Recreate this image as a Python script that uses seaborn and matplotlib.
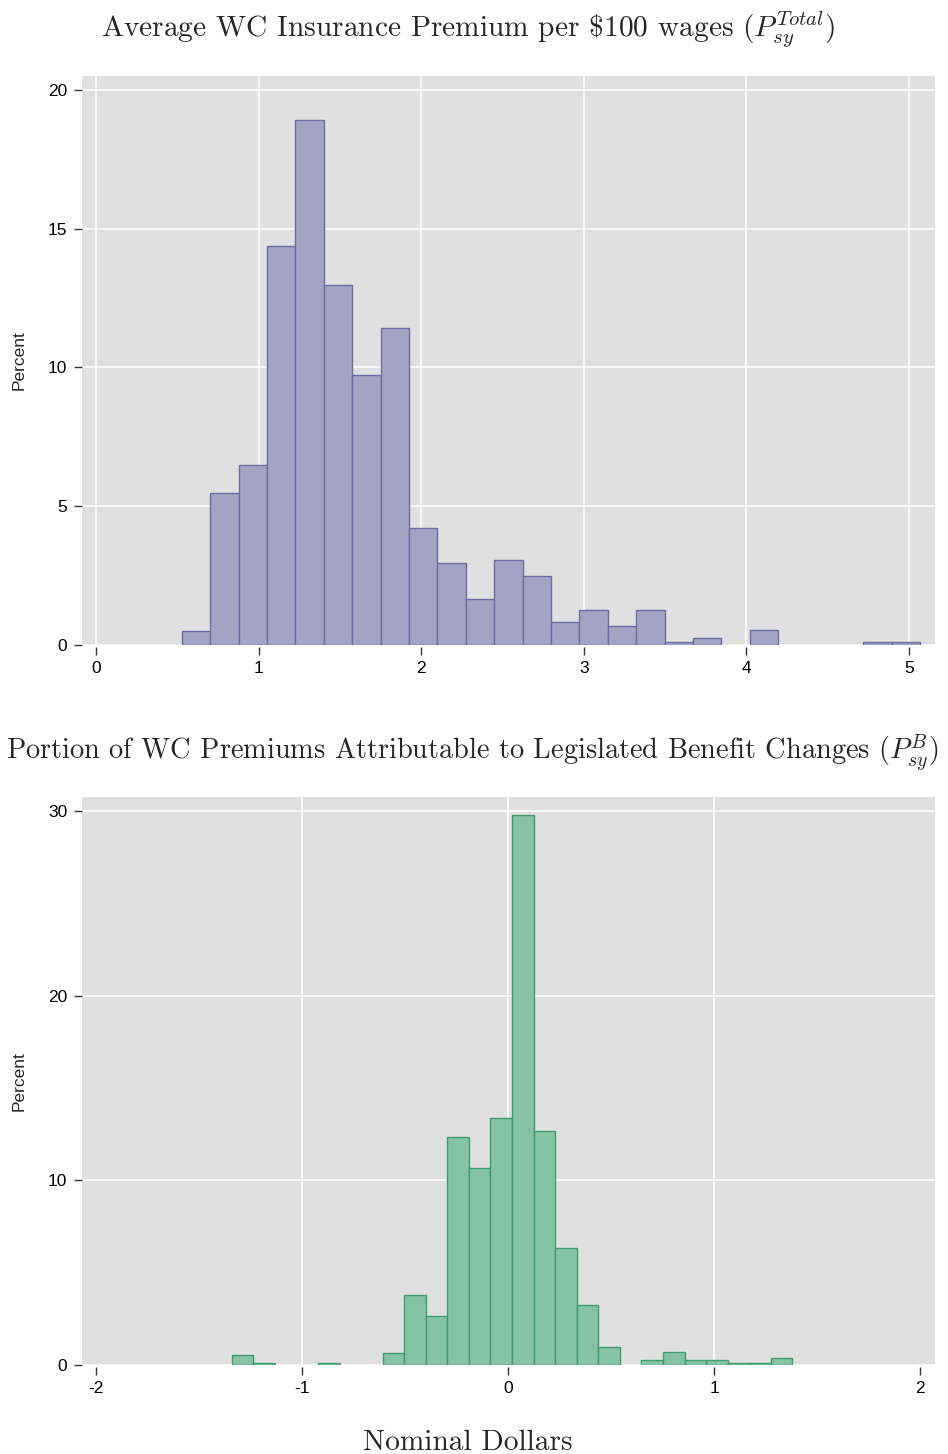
import numpy as np
import pandas as pd
import matplotlib
matplotlib.use("Agg")
import matplotlib.pyplot as plt
import seaborn as sns

# Histogram of average WC premium per $100 wages (percent of state-years per bin)
prem_bin_start = 0.528
prem_bin_width = 0.1746
prem_pct = [0.52, 5.47, 6.48, 14.39, 18.93, 12.98, 9.73, 11.43, 4.20, 2.94,
            1.67, 3.08, 2.50, 0.82, 1.25, 0.69, 1.25, 0.11, 0.24, 0.00,
            0.54, 0.00, 0.00, 0.00, 0.11, 0.11]
prem_xticks = [0, 1, 2, 3, 4, 5]
prem_yticks = [0, 5, 10, 15, 20]

# Histogram of premium portion attributable to legislated benefit changes
ben_bin_start = -1.341
ben_bin_width = 0.10465
ben_pct = [0.52, 0.09, 0.00, 0.00, 0.09, 0.00, 0.00, 0.67, 3.77, 2.65,
           12.36, 10.68, 13.35, 29.78, 12.65, 6.31, 3.23, 0.95, 0.00, 0.25,
           0.68, 0.25, 0.25, 0.09, 0.09, 0.40]
ben_xticks = [-2, -1, 0, 1, 2]
ben_yticks = [0, 10, 20, 30]

title_top = r"Average WC Insurance Premium per \$100 wages $(P_{sy}^{Total})$"
title_bottom = r"Portion of WC Premiums Attributable to Legislated Benefit Changes $(P_{sy}^{B})$"
x_label = "Nominal Dollars"
y_label = "Percent"

sns.set_style("darkgrid", {"axes.facecolor": "#e0e0e0", "grid.color": "white"})
plt.rcParams["font.family"] = ["Liberation Sans", "DejaVu Sans"]
plt.rcParams["mathtext.fontset"] = "cm"
plt.rcParams["axes.unicode_minus"] = False

fig = plt.figure(figsize=(9.48, 14.54), dpi=100)
ax1 = fig.add_axes([0.086, 0.5564, 0.900, 0.3913])
ax2 = fig.add_axes([0.086, 0.0612, 0.900, 0.3909])


def draw_hist(ax, start, width, pct, fill, edge):
    n = len(pct)
    edges = [float(start + width * i) for i in range(n + 1)]
    centers = [(edges[i] + edges[i + 1]) / 2 for i in range(n)]
    df = pd.DataFrame({"value": centers, "pct": pct})
    sns.histplot(data=df, x="value", weights="pct", bins=edges, ax=ax,
                 color=fill, edgecolor=edge, alpha=1, linewidth=1.0)
    for p in ax.patches:
        if p.get_height() <= 0:
            p.set_visible(False)


draw_hist(ax1, prem_bin_start, prem_bin_width, prem_pct, "#a3a4c4", "#6c6ca4")
draw_hist(ax2, ben_bin_start, ben_bin_width, ben_pct, "#86c3a5", "#3f9c6f")

ax1.set_xlim(-0.089, 5.158)
ax1.set_ylim(0, 20.5)
ax1.set_xticks(prem_xticks)
ax1.set_yticks(prem_yticks)

ax2.set_xlim(-2.070, 2.071)
ax2.set_ylim(0, 30.77)
ax2.set_xticks(ben_xticks)
ax2.set_yticks(ben_yticks)

for ax in (ax1, ax2):
    ax.set_axisbelow(True)
    ax.grid(True, color="white", linewidth=1.1)
    for s in ax.spines.values():
        s.set_visible(False)
    ax.spines["bottom"].set_position(("outward", 1.5))
    ax.tick_params(axis="both", which="major", length=5.8, width=1.0,
                   color="#333333", labelsize=12.5, labelcolor="black",
                   bottom=True, left=True, pad=4.5)
    ax.set_xlabel("")
    ax.set_ylabel(y_label, fontsize=12.5, labelpad=0)
    ax.yaxis.set_label_coords(-0.0642, 0.5)

# no vertical grid lines at the outermost ticks of the lower panel
xg = ax2.get_xgridlines()
xg[0].set_visible(False)
xg[-1].set_visible(False)

serif = ["cmr10", "DejaVu Serif"]
fig.text(0.494, 0.9746, title_top, ha="center", va="baseline",
         fontsize=21.2, family=serif)
fig.text(0.4985, 0.478, title_bottom, ha="center", va="baseline",
         fontsize=20.4, family=serif)
fig.text(0.493, 0.0028, x_label, ha="center", va="baseline",
         fontsize=21.2, family=serif)

fig.savefig("out.png", dpi=100)
